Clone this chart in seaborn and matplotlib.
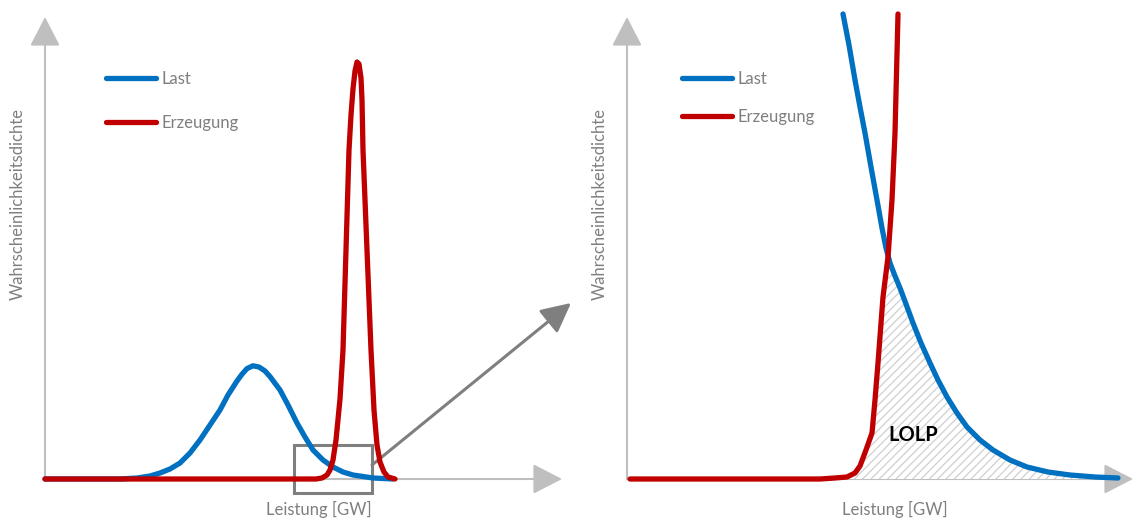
import numpy as np
import pandas as pd
import matplotlib
matplotlib.use("Agg")
import matplotlib.pyplot as plt
from matplotlib.patches import Rectangle
import seaborn as sns

# --- data (schematic values) ---
# left panel: full distributions
last_x = [0, 7.5, 9.2, 10.5, 11.5, 12.5, 13.5, 14.5, 15.5, 16.5, 17.5, 18.3, 19.2, 19.7, 20.2, 20.8,
          21.4, 22.0, 22.5, 23.5, 24.3, 25.2, 26.0, 26.8, 27.8, 28.8, 29.8, 30.8, 32.8, 34.8]
last_y = [0, 0, 0.25, 0.75, 1.5, 2.5, 4, 6.5, 9.75, 13.5, 17.25, 21, 24.5, 26.2, 27.6, 28.3,
          28.0, 27.0, 25.6, 22.25, 18.5, 14, 10.5, 7.25, 4.75, 3, 1.75, 1, 0.25, 0]
erz_x = [0, 27.1, 27.7, 28.2, 28.5, 28.8, 29.1, 29.5, 29.8, 30.1, 30.4, 30.6, 30.8, 31.0, 31.2,
         31.4, 31.6, 31.7, 31.8, 32.2, 32.6, 32.9, 33.2, 33.5, 33.9, 34.3, 35.0]
erz_y = [0, 0, 0.25, 1, 2.25, 4.75, 9.75, 20, 32.25, 57.25, 82.25, 91, 97.5, 102, 104.25,
         103.75, 100.25, 94.75, 82.25, 57.25, 32.25, 17.25, 8.5, 4.25, 1.75, 0.5, 0]

# right panel: zoomed tail
last_zoom_x = [21.6, 22.2, 22.8, 23.3, 23.8, 24.4, 25.0, 25.5, 25.9, 26.3, 26.8, 27.3, 27.9,
               28.6, 29.4, 30.3, 31.1, 32.0, 33.0, 34.0, 35.3, 36.6, 38.3, 40.0, 42.1, 44.3, 46.8, 49.1]
last_zoom_y = [116.25, 108.5, 99.75, 93, 86.5, 78, 69.75, 62.75, 57.75, 54, 50.75, 47.75, 43.75,
               39, 34, 29, 24.75, 20.5, 16.5, 13, 9.75, 7.25, 4.75, 3, 1.75, 1, 0.5, 0.25]
erz_zoom_x = [0.3, 19.3, 20.8, 22.0, 22.8, 23.3, 23.9, 24.5, 24.8, 25.1, 25.6, 26.1, 26.5, 26.8, 27.1]
erz_zoom_y = [0, 0, 0.25, 0.5, 1.5, 3.25, 7.25, 11.5, 19.75, 29, 45.5, 55.5, 69.75, 86.5, 116.25]
schnitt_x = 26.1  # where Last and Erzeugung cross

labels = ["Last", "Erzeugung"]
xlabel = "Leistung [GW]"
ylabel = "Wahrscheinlichkeitsdichte"

BLUE = "#0070c0"
RED = "#c00000"
AXGRAY = "#bfbfbf"
DARKGRAY = "#7f7f7f"
TXT = "#7f7f7f"

sns.set_theme(style="white")
plt.rcParams['font.family'] = ['Lato', 'DejaVu Sans']
plt.rcParams['hatch.linewidth'] = 0.9

W, H = 1134, 518
fig = plt.figure(figsize=(W / 100, H / 100), dpi=100)

ax_l = fig.add_axes([45 / W, 39 / H, 517 / W, 462 / H])
ax_r = fig.add_axes([627 / W, 39 / H, 506 / W, 462 / H])
ax_l.set_xlim(0, 51.7)
ax_l.set_ylim(0, 115.5)
ax_r.set_xlim(0, 50.6)
ax_r.set_ylim(0, 115.5)

for ax in (ax_l, ax_r):
    ax.axis("off")
    # axes drawn as arrows
    arr = dict(arrowstyle="-|>,head_length=1.3,head_width=0.67", mutation_scale=14,
               color=AXGRAY, lw=1.5, shrinkA=0, shrinkB=0)
    ax.annotate("", xy=(1, 0), xytext=(0, 0), xycoords="axes fraction", arrowprops=arr, zorder=1)
    ax.annotate("", xy=(0, 1), xytext=(0, 0), xycoords="axes fraction", arrowprops=arr, zorder=1)

line_kw = dict(lw=3.8, estimator=None, sort=False, solid_capstyle="round",
               solid_joinstyle="round", clip_on=False, zorder=4)

sns.lineplot(x=last_x, y=last_y, color=BLUE, label=labels[0], ax=ax_l, **line_kw)
sns.lineplot(x=erz_x, y=erz_y, color=RED, label=labels[1], ax=ax_l, **line_kw)
sns.lineplot(x=last_zoom_x, y=last_zoom_y, color=BLUE, label=labels[0], ax=ax_r, **line_kw)
sns.lineplot(x=erz_zoom_x, y=erz_zoom_y, color=RED, label=labels[1], ax=ax_r, **line_kw)

# LOLP area: under Erzeugung up to the crossing, then under Last
ex = np.array(erz_zoom_x); ey = np.array(erz_zoom_y)
lx = np.array(last_zoom_x); ly = np.array(last_zoom_y)
m1 = (ex >= 20.8) & (ex <= schnitt_x)
m2 = lx > schnitt_x
px = np.concatenate([ex[m1], lx[m2], [lx[m2][-1], ex[m1][0]]])
py = np.concatenate([ey[m1], ly[m2], [0, 0]])
ax_r.fill(px, py, facecolor="white", edgecolor="#cfcfcf", hatch="////", lw=0, zorder=2)
ax_r.text(28.6, 11, "LOLP", ha="center", va="center", fontsize=14.5, fontweight="bold",
          color="black", zorder=5)

# zoom box + arrow to the right panel
ax_l.add_patch(Rectangle((24.9, -3.5), 7.8, 12, fill=False, edgecolor=DARKGRAY, lw=2.2,
                         clip_on=False, zorder=3))
ax_l.annotate("", xy=(571, H - 303), xycoords="figure pixels", xytext=(32.7, 3.5),
              textcoords="data",
              arrowprops=dict(arrowstyle="-|>,head_length=1.2,head_width=0.6", mutation_scale=15,
                              color=DARKGRAY, lw=2.2, shrinkA=0, shrinkB=0), zorder=3)

# legends
ax_l.legend(loc="upper left", bbox_to_anchor=(105.5 / W, 1 - 71 / H), bbox_transform=fig.transFigure,
            frameon=False, fontsize=12, labelcolor=TXT, handlelength=3.0, handletextpad=0.35,
            labelspacing=1.65, borderpad=0, borderaxespad=0)
ax_r.legend(loc="upper left", bbox_to_anchor=(681.5 / W, 1 - 71 / H), bbox_transform=fig.transFigure,
            frameon=False, fontsize=12, labelcolor=TXT, handlelength=3.0, handletextpad=0.35,
            labelspacing=1.3, borderpad=0, borderaxespad=0)

# axis titles
fig.text(18 / W, 1 - 204 / H, ylabel, rotation=90, ha="center", va="center", fontsize=12, color=TXT)
fig.text(600 / W, 1 - 204 / H, ylabel, rotation=90, ha="center", va="center", fontsize=12, color=TXT)
fig.text(319 / W, 3 / H, xlabel, ha="center", va="baseline", fontsize=12, color=TXT)
fig.text(895 / W, 3 / H, xlabel, ha="center", va="baseline", fontsize=12, color=TXT)

fig.savefig("out.png", dpi=100)
